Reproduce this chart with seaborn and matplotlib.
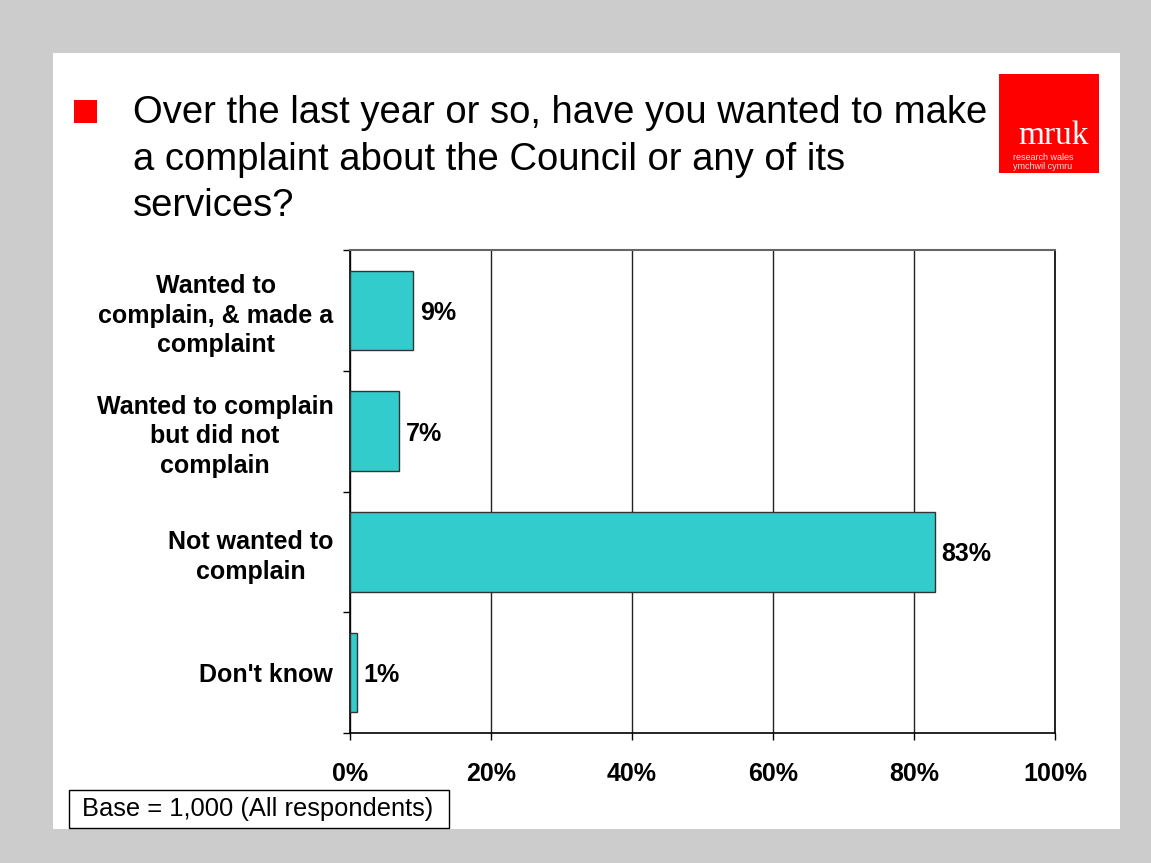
import matplotlib
matplotlib.use("Agg")
import matplotlib.pyplot as plt
from matplotlib.patches import Rectangle
import seaborn as sns
import pandas as pd

# Survey responses
categories = [
    "Wanted to\ncomplain, & made a\ncomplaint",
    "Wanted to complain\nbut did not\ncomplain",
    "Not wanted to\ncomplain",
    "Don't know",
]
percentages = [9, 7, 83, 1]
x_ticks = [0, 20, 40, 60, 80, 100]
x_tick_labels = ["0%", "20%", "40%", "60%", "80%", "100%"]

title_lines = [
    "Over the last year or so, have you wanted to make",
    "a complaint about the Council or any of its",
    "services?",
]
base_note = "Base = 1,000 (All respondents)"

sns.set_theme(style="white")
plt.rcParams["font.family"] = ["Liberation Sans", "DejaVu Sans"]
plt.rcParams["text.color"] = "black"
plt.rcParams["xtick.color"] = "black"
plt.rcParams["ytick.color"] = "black"
plt.rcParams["xtick.labelcolor"] = "black"
plt.rcParams["ytick.labelcolor"] = "black"

W, H = 1151, 863
fig = plt.figure(figsize=(W / 100, H / 100), dpi=100, facecolor="#cccccc")


def fx(px):
    return px / W


def fy(py):
    return 1 - py / H


# White slide panel
fig.patches.append(Rectangle((fx(53), fy(829)), fx(1120) - fx(53), fy(53) - fy(829),
                             transform=fig.transFigure, facecolor="white",
                             edgecolor="none", zorder=-5))

# Red bullet and heading
fig.patches.append(Rectangle((fx(74), fy(123)), fx(97) - fx(74), fy(100) - fy(123),
                             transform=fig.transFigure, facecolor="#ff0000",
                             edgecolor="none", zorder=1))
for i, line in enumerate(title_lines):
    fig.text(fx(133), fy(123 + 46.5 * i), line, fontsize=27.5, color="black",
             ha="left", va="baseline")

# Logo block
fig.patches.append(Rectangle((fx(999), fy(173)), fx(1099) - fx(999), fy(74) - fy(173),
                             transform=fig.transFigure, facecolor="#ff0000",
                             edgecolor="none", zorder=1))
fig.text(fx(1054), fy(144), "mruk", family=["Liberation Serif", "DejaVu Serif"],
         fontsize=24, color="white", ha="center", va="baseline")
fig.text(fx(1013), fy(160), "research wales", fontsize=6.5, color="#ffe0e0",
         ha="left", va="baseline")
fig.text(fx(1013), fy(169), "ymchwil cymru", fontsize=6.5, color="#ffe0e0",
         ha="left", va="baseline")

# Chart
ax = fig.add_axes([fx(350), fy(733), fx(1055) - fx(350), fy(250) - fy(733)])
ax.set_zorder(3)
df = pd.DataFrame({"category": categories, "pct": percentages})
sns.barplot(data=df, x="pct", y="category", orient="h", color="#33cccc",
            edgecolor="#333333", linewidth=1.0, width=0.66, saturation=1, ax=ax)
for p in ax.patches:
    p.set_zorder(3)

ax.set_xlim(0, 100)
ax.set_ylim(3.5, -0.5)
ax.set_xlabel("")
ax.set_ylabel("")
ax.set_facecolor("white")

ax.set_xticks(x_ticks)
ax.set_xticklabels(x_tick_labels, fontsize=18, fontweight="bold", color="black")
ax.tick_params(axis="x", bottom=True, length=5, width=1, color="black", pad=16)

# Category boundaries carry the tick marks, category centres carry the labels
ax.set_yticks([-0.5, 0.5, 1.5, 2.5, 3.5])
ax.set_yticklabels([])
ax.set_yticks(range(len(categories)), minor=True)
ax.set_yticklabels(categories, minor=True, fontsize=18, fontweight="bold",
                   color="black", multialignment="center", linespacing=1.3)
ax.tick_params(axis="y", which="major", left=True, length=5, width=1, color="black")
ax.tick_params(axis="y", which="minor", left=True, length=0, pad=12)

ax.xaxis.grid(True, color="#222222", linewidth=1)
ax.yaxis.grid(False)
ax.set_axisbelow(True)

for side in ["left", "bottom", "right"]:
    ax.spines[side].set_visible(True)
    ax.spines[side].set_color("black")
    ax.spines[side].set_linewidth(1.2)
ax.spines["top"].set_visible(True)
ax.spines["top"].set_color("#666666")
ax.spines["top"].set_linewidth(1.5)

for i, v in enumerate(percentages):
    ax.text(v + 0.9, i, f"{v}%", fontsize=18, fontweight="bold", color="black",
            ha="left", va="center_baseline", zorder=4)

# Base note box
fig.patches.append(Rectangle((fx(69), fy(828)), fx(449) - fx(69), fy(790) - fy(828),
                             transform=fig.transFigure, facecolor="white",
                             edgecolor="black", linewidth=1, zorder=4))
fig.text(fx(82), fy(809), base_note, fontsize=18.4, color="black",
         ha="left", va="center", zorder=5)

fig.savefig("out.png", dpi=100, facecolor=fig.get_facecolor())
